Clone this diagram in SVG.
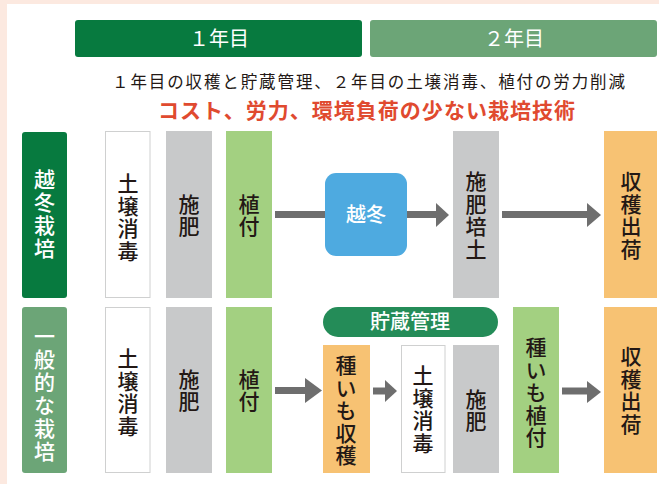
<svg xmlns="http://www.w3.org/2000/svg" width="659" height="484" viewBox="0 0 659 484">
<style>
text{font-family:"Noto Sans CJK JP","Noto Sans CJK SC",sans-serif}
.v{writing-mode:vertical-rl;text-anchor:middle;font-size:21px;letter-spacing:1.5px;fill:#231815;font-weight:500}
.vw{writing-mode:vertical-rl;text-anchor:middle;font-size:21px;letter-spacing:2px;fill:#fff;font-weight:500}
.hw{fill:#fff;font-size:20px;text-anchor:middle}
.white{fill:#fff;stroke:#cfd0d0;stroke-width:1}
.gray{fill:#c8c9ca}
.lg{fill:#a3d081}
.or{fill:#f7c273}
.line{stroke:#6e6e6e;stroke-width:7;fill:none}
.head{fill:#6e6e6e}
</style>
<rect width="659" height="484" fill="#fce9e0"/>
<rect x="7" y="4" width="652" height="480" fill="#fff"/>
<g id="year1"><rect x="75" y="20" width="287" height="37" rx="3" fill="#077a3f"/><text x="219" y="45.5" class="hw" font-size="20">１年目</text></g>
<g id="year2"><rect x="370" y="20" width="287" height="37" rx="3" fill="#6ca577"/><text x="514" y="45.5" class="hw" font-size="20">２年目</text></g>
<g id="subtitle"><text x="112" y="88" font-size="16.5" fill="#231815" textLength="513" lengthAdjust="spacing">１年目の収穫と貯蔵管理、２年目の土壌消毒、植付の労力削減</text></g>
<g id="title"><text x="158" y="118" font-size="21" font-weight="bold" fill="#e04a2f" textLength="417" lengthAdjust="spacing">コスト、労力、環境負荷の少ない栽培技術</text></g>

<g id="label1"><rect x="22" y="132" width="45" height="166" rx="3" fill="#077a3f"/><text x="44.5" y="215" class="vw">越冬栽培</text></g>
<g id="r1_dojo"><rect x="105.5" y="131.5" width="44.5" height="166" class="white"/><text x="128" y="218" class="v">土壌消毒</text></g>
<g id="r1_sehi"><rect x="166" y="131" width="46" height="167" class="gray"/><text x="189" y="216" class="v">施肥</text></g>
<g id="r1_uetsuke"><rect x="226" y="131" width="46" height="167" class="lg"/><text x="249" y="216" class="v">植付</text></g>
<g id="r1_ettou"><rect x="325" y="173" width="82" height="83" rx="11" fill="#4eaae0"/><text x="366" y="222" class="hw" font-weight="500">越冬</text></g>
<g id="r1_sehibaido"><rect x="453" y="131" width="46" height="167" class="gray"/><text x="476" y="216" class="v">施肥培土</text></g>
<g id="r1_shukaku"><rect x="604" y="131" width="53" height="167" class="or"/><text x="631" y="216" class="v">収穫出荷</text></g>

<g id="label2"><rect x="22" y="307" width="45" height="166" rx="3" fill="#6ca577"/><text x="44.5" y="395" class="vw">一般的な栽培</text></g>
<g id="r2_dojo"><rect x="105.5" y="307.5" width="44.5" height="165" class="white"/><text x="128" y="393" class="v">土壌消毒</text></g>
<g id="r2_sehi"><rect x="166" y="307" width="46" height="166" class="gray"/><text x="189" y="391" class="v">施肥</text></g>
<g id="r2_uetsuke"><rect x="226" y="307" width="46" height="166" class="lg"/><text x="249" y="391" class="v">植付</text></g>
<g id="r2_chozo"><rect x="323" y="307" width="175" height="30" rx="15" fill="#248c58"/><text x="410" y="329" class="hw" font-weight="500">貯蔵管理</text></g>
<g id="r2_taneimo"><rect x="323" y="345" width="47" height="128" class="or"/><text x="346" y="411" class="v">種いも収穫</text></g>
<g id="r2_dojo2"><rect x="401.5" y="345.5" width="43.5" height="127" class="white"/><text x="423" y="410" class="v">土壌消毒</text></g>
<g id="r2_sehi2"><rect x="453" y="345" width="46" height="128" class="gray"/><text x="476" y="411" class="v">施肥</text></g>
<g id="r2_taneueta"><rect x="513" y="307" width="46" height="166" class="lg"/><text x="536" y="393" class="v">種いも植付</text></g>
<g id="r2_shukaku"><rect x="604" y="307" width="53" height="166" class="or"/><text x="631" y="391" class="v">収穫出荷</text></g>

<g id="connectors">
<line x1="275" y1="214.5" x2="325" y2="214.5" class="line"/>
<line x1="407" y1="214.5" x2="438" y2="214.5" class="line"/><polygon points="436,203 449,215 436,227" class="head"/>
<line x1="502" y1="214.5" x2="589" y2="214.5" class="line"/><polygon points="587,203 601,215 587,227" class="head"/>
<line x1="275" y1="390.5" x2="307" y2="390.5" class="line"/><polygon points="305,378 322,390.5 305,403" class="head"/>
<line x1="373" y1="391" x2="387" y2="391" class="line"/><polygon points="385,380 397,391 385,402" class="head"/>
<line x1="562" y1="391" x2="589" y2="391" class="line"/><polygon points="587,381 601,392 587,403" class="head"/>
</g>
</svg>
